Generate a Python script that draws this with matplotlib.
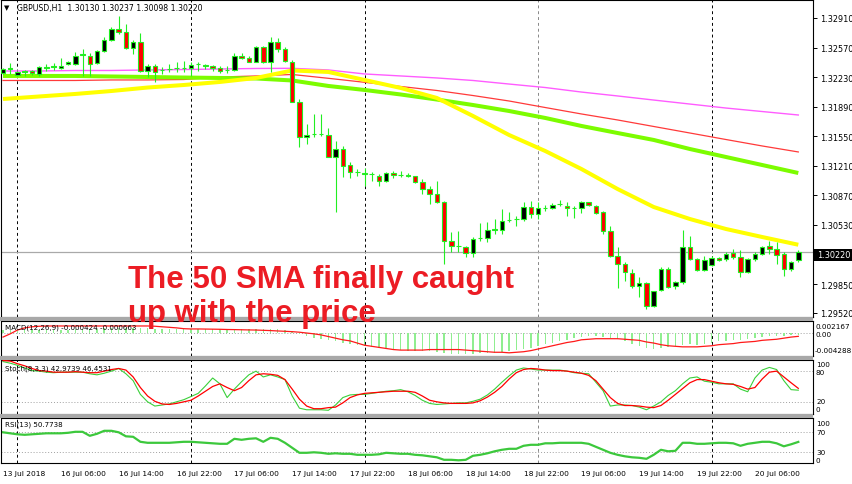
import matplotlib
matplotlib.use('Agg')
import matplotlib.pyplot as plt
from matplotlib.patches import Rectangle
import numpy as np

# ---------------- data ----------------
opens = [1.32277,1.32323,1.32257,1.32294,1.32300,1.32266,1.32340,1.32346,1.32338,1.32381,
         1.32381,1.32484,1.32476,1.32389,1.32533,1.32660,1.32783,1.32745,1.32561,1.32637,
         1.32303,1.32354,1.32312,1.32320,1.32329,1.32331,1.32335,1.32377,1.32372,1.32354,
         1.32335,1.32308,1.32315,1.32476,1.32453,1.32407,1.32573,1.32400,1.32630,1.32553,
         1.32409,1.31947,1.31538,1.31576,1.31581,1.31564,1.31308,1.31403,1.31219,1.31135,
         1.31130,1.31116,1.31096,1.31038,1.31127,1.31104,1.31100,1.31089,1.31020,1.30943,
         1.30886,1.30797,1.30348,1.30284,1.30273,1.30207,1.30374,1.30380,1.30475,1.30472,
         1.30587,1.30595,1.30598,1.30739,1.30656,1.30725,1.30728,1.30767,1.30751,1.30728,
         1.30721,1.30790,1.30751,1.30675,1.30463,1.30176,1.30081,1.29977,1.29831,1.29859,
         1.29601,1.29782,1.30023,1.29824,1.29870,1.30273,1.30138,1.30015,1.30069,1.30150,
         1.30138,1.30204,1.30164,1.29985,1.30138,1.30196,1.30284,1.30253,1.30196,1.30023,
         1.30130]
highs = [1.32335,1.32392,1.32297,1.32312,1.32308,1.32354,1.32381,1.32389,1.32446,1.32412,
         1.32515,1.32553,1.32507,1.32545,1.32688,1.32803,1.32929,1.32841,1.32660,1.32737,
         1.32381,1.32381,1.32343,1.32381,1.32400,1.32418,1.32400,1.32400,1.32381,1.32372,
         1.32361,1.32354,1.32507,1.32507,1.32476,1.32591,1.32591,1.32688,1.32680,1.32573,
         1.32427,1.31978,1.31691,1.31806,1.31806,1.31641,1.31498,1.31441,1.31250,1.31173,
         1.31181,1.31135,1.31116,1.31142,1.31153,1.31153,1.31124,1.31096,1.31058,1.30981,
         1.31038,1.30808,1.30452,1.30457,1.30291,1.30388,1.30552,1.30560,1.30598,1.30713,
         1.30682,1.30636,1.30797,1.30808,1.30790,1.30759,1.30782,1.30820,1.30790,1.30751,
         1.30808,1.30797,1.30762,1.30687,1.30521,1.30273,1.30100,1.30023,1.29928,1.29870,
         1.29773,1.30043,1.30043,1.29888,1.30472,1.30399,1.30146,1.30169,1.30169,1.30158,
         1.30215,1.30253,1.30242,1.30146,1.30215,1.30291,1.30348,1.30330,1.30215,1.30118,
         1.30237]
lows = [1.32260,1.32266,1.32246,1.32246,1.32257,1.32246,1.32303,1.32312,1.32323,1.32369,
        1.32369,1.32246,1.32246,1.32381,1.32515,1.32648,1.32726,1.32553,1.32496,1.32285,
        1.32228,1.32170,1.32266,1.32285,1.32285,1.32292,1.32246,1.32297,1.32323,1.32303,
        1.32277,1.32277,1.32303,1.32438,1.32400,1.32400,1.32389,1.32285,1.32515,1.32400,
        1.31938,1.31423,1.31460,1.31538,1.31556,1.31308,1.30675,1.31078,1.31070,1.31089,
        1.30981,1.31038,1.30974,1.31027,1.31066,1.31078,1.31078,1.31009,1.30886,1.30771,
        1.30782,1.30081,1.30215,1.30222,1.30158,1.30158,1.30348,1.30337,1.30426,1.30426,
        1.30560,1.30514,1.30578,1.30606,1.30598,1.30693,1.30713,1.30744,1.30629,1.30606,
        1.30667,1.30751,1.30656,1.30426,1.30158,1.29801,1.29888,1.29801,1.29698,1.29563,
        1.29583,1.29773,1.29805,1.29793,1.29851,1.30127,1.30003,1.30003,1.30054,1.30118,
        1.30118,1.30138,1.29928,1.29974,1.30118,1.30184,1.30196,1.30081,1.29946,1.30003,
        1.30098]
closes = [1.32323,1.32335,1.32285,1.32300,1.32274,1.32343,1.32346,1.32352,1.32358,1.32400,
          1.32476,1.32490,1.32381,1.32533,1.32660,1.32783,1.32745,1.32561,1.32630,1.32303,
          1.32354,1.32292,1.32317,1.32325,1.32335,1.32337,1.32372,1.32381,1.32354,1.32331,
          1.32297,1.32314,1.32476,1.32446,1.32407,1.32573,1.32400,1.32637,1.32553,1.32412,
          1.31947,1.31544,1.31567,1.31581,1.31576,1.31314,1.31403,1.31211,1.31135,1.31139,
          1.31116,1.31110,1.31038,1.31127,1.31104,1.31100,1.31098,1.31020,1.30943,1.30886,
          1.30797,1.30348,1.30291,1.30288,1.30207,1.30368,1.30380,1.30472,1.30480,1.30578,
          1.30592,1.30598,1.30739,1.30656,1.30721,1.30730,1.30759,1.30771,1.30728,1.30725,
          1.30790,1.30759,1.30667,1.30463,1.30176,1.30081,1.29985,1.29824,1.29859,1.29601,
          1.29767,1.30023,1.29819,1.29870,1.30273,1.30138,1.30015,1.30127,1.30146,1.30127,
          1.30196,1.30164,1.29985,1.30138,1.30196,1.30280,1.30253,1.30184,1.30023,1.30107,
          1.30220]

# moving averages, read every 5 bars
ma_idx = list(range(0, 111, 5))
sma_yellow = [1.31978,1.32007,1.32036,1.32070,1.32110,1.32139,1.32174,1.32220,1.32306,1.32289,
              1.32197,1.32105,1.31990,1.31783,1.31564,1.31380,1.31173,1.30943,1.30736,1.30598,
              1.30483,1.30391,1.30302]
sma_green = [1.32243,1.32243,1.32243,1.32237,1.32231,1.32225,1.32220,1.32214,1.32191,1.32128,
             1.32082,1.32030,1.31972,1.31909,1.31840,1.31760,1.31668,1.31587,1.31507,1.31403,
             1.31311,1.31219,1.31127]
sma_red = [1.32191,1.32191,1.32191,1.32197,1.32197,1.32202,1.32231,1.32243,1.32260,1.32216,
           1.32170,1.32122,1.32076,1.32018,1.31955,1.31880,1.31806,1.31737,1.31662,1.31587,
           1.31512,1.31438,1.31369]
sma_magenta = [1.32300,1.32300,1.32306,1.32306,1.32312,1.32317,1.32323,1.32329,1.32331,1.32312,
               1.32266,1.32243,1.32220,1.32191,1.32150,1.32110,1.32058,1.32013,1.31966,1.31920,
               1.31874,1.31834,1.31794]

macd_hist = ([0.0005]*10 + [0.0006]*4 + [0.0008]*7 + [0.0006]*18 +
             [0.0005,0.0003,-0.0002,-0.0006,-0.0009,-0.0011,-0.0013,-0.0015,-0.0018,-0.0020,
              -0.0023,-0.0025,-0.0027,-0.0029,-0.0030,-0.0031,-0.0032,-0.0033,-0.0034,
              -0.00334,-0.00343,-0.00355,-0.00373,-0.00386,-0.00386,-0.00398,-0.00386,-0.00373,
              -0.00373,-0.00367,-0.00355,-0.00343,-0.00324,-0.00306,-0.00275,-0.00250,-0.00214,
              -0.00189,-0.00152,-0.00128,-0.00097,-0.00078,-0.00060,-0.00060,-0.00078,-0.00091,
              -0.00109,-0.00152,-0.00201,-0.00250,-0.00275,-0.00294,-0.00275,-0.00263,-0.00250,
              -0.00232,-0.00214,-0.00232,-0.00214,-0.00189,-0.00158,-0.00152,-0.00140,-0.00128,
              -0.00109,-0.00091,-0.00078,-0.00066,-0.00066,-0.00054,-0.00042,-0.000424])
macd_signal = ([-0.0008,-0.0002,0.0005,0.0009,0.0011,0.0012] + [0.00125]*15 +
               [0.0012,0.0011,0.0010,0.0009,0.00075,0.0007,0.0007,0.00068,0.00066,0.00064,
                0.0006,0.00058,0.00055,0.00052,0.0005,0.00045,0.0004,0.00033,0.00027,0.0002,
                0.0001,-0.00005,-0.0002,-0.0004,-0.0007,-0.0010,-0.0013,-0.0015,-0.0019,-0.0023,
                -0.0025,-0.0027,-0.0029,-0.0031,-0.0032,-0.0032,-0.0032,-0.0032,
                -0.0031,-0.0031,-0.0031,-0.0031,-0.0031,-0.0032,-0.0033,-0.0034,-0.0035,-0.0036,
                -0.0036,-0.0037,-0.0036,-0.0035,-0.0033,-0.0030,-0.0027,-0.0024,-0.0021,-0.0018,
                -0.0016,-0.0013,-0.0012,-0.0011,-0.0011,-0.0011,-0.0011,-0.0012,-0.0013,-0.0014,
                -0.0017,-0.0019,-0.0022,-0.0024,-0.0025,-0.0026,-0.0026,-0.0026,-0.0025,-0.0024,
                -0.0022,-0.0021,-0.0020,-0.0018,-0.0017,-0.0016,-0.0014,-0.0013,-0.0012,-0.0010,
                -0.0008,-0.000663])

stoch_k = [97,94,90,85,80,79,77,76,77,77, 77,77,74,72,75,79,84,74,61,35,
           21,13,15,17,21,25,31,37,51,66, 55,29,45,59,72,79,68,72,68,63,
           32,9,6,6,6,5,15,29,34,35, 35,37,39,41,42,44,40,33,24,18,
           16,17,18,19,19,22,26,34,45,58, 70,81,85,83,81,81,81,81,79,76,
           75,74,58,42,13,15,15,14,11,6, 13,21,33,42,55,66,68,60,58,55,
           55,55,45,40,66,81,86,82,61,44, 42.97]
stoch_d = [99,98,93,89,84,80,79,77,77,77, 78,77,76,76,79,82,84,81,68,48,
           32,22,17,16,18,21,24,32,41,50, 55,48,42,48,61,72,74,73,71,63,
           45,26,13,8,8,10,11,19,29,34, 37,38,39,40,41,41,41,39,32,24,
           21,19,18,18,18,19,23,30,39,50, 64,76,82,84,83,81,80,80,79,77,
           75,71,61,45,29,18,14,14,13,11, 10,14,24,35,46,57,63,63,60,57,
           55,54,50,45,48,64,77,79,68,57, 46.45]
rsi = [70,68,66,65,66,67,68,68,68,69, 71,71,63,67,73,73,70,62,61,51,
       49,49,49,49,50,51,51,50,49,48, 47,47,57,55,57,58,51,59,57,49,
       39,29,29,30,29,27,28,27,27,25, 25,25,26,29,28,27,27,25,24,22,
       20,15,15,14,15,23,25,28,32,35, 37,37,43,45,45,48,48,49,49,49,
       49,47,41,35,29,25,22,20,19,17, 25,35,32,33,49,49,47,47,48,49,
       49,48,43,47,49,51,51,48,42,46, 50.77]

price_ticks = [1.32910,1.32570,1.32230,1.31890,1.31550,1.31210,1.30870,1.30530,1.29850,1.29520]
last_price = 1.30220
time_idx = [0,8,16,24,32,40,48,56,64,72,80,88,96,104]
time_labels = ["13 Jul 2018","16 Jul 06:00","16 Jul 14:00","16 Jul 22:00","17 Jul 06:00",
               "17 Jul 14:00","17 Jul 22:00","18 Jul 06:00","18 Jul 14:00","18 Jul 22:00",
               "19 Jul 06:00","19 Jul 14:00","19 Jul 22:00","20 Jul 06:00"]
day_idx = [2, 26, 50, 74, 98]

# ---------------- figure ----------------
W, H = 852, 485
fig = plt.figure(figsize=(W/100, H/100), dpi=100)
fig.patch.set_facecolor('white')

def rect(x0, y0, x1, y1):
    return [x0/W, 1 - y1/H, (x1-x0)/W, (y1-y0)/H]

def T(x, y, s, **kw):
    kw.setdefault('fontsize', 5.9)
    kw.setdefault('family', 'DejaVu Sans')
    kw.setdefault('va', 'center')
    kw.setdefault('ha', 'left')
    return fig.text(x/W, 1 - y/H, s, **kw)

PX0, PX1 = 1, 813
ax = fig.add_axes(rect(PX0, 1, PX1, 318))
axm = fig.add_axes(rect(PX0, 322, PX1, 357))
axs = fig.add_axes(rect(PX0, 361, PX1, 415))
axr = fig.add_axes(rect(PX0, 419, PX1, 464))

# gray separators
for (y0, y1) in [(318, 322), (357, 361), (415, 419)]:
    fig.patches.append(Rectangle((0, 1 - y1/H), PX1/W, (y1-y0)/H, transform=fig.transFigure,
                                 facecolor='#a8a8a8', edgecolor='none', zorder=0))

xl = ((PX0 - 3)/7.23, (PX1 - 3)/7.23)
n = len(opens)
idx = np.arange(n)
for a in (ax, axm, axs, axr):
    a.set_xlim(*xl)
    a.set_xticks([])
    a.set_facecolor('white')
    for sp in a.spines.values():
        sp.set_color('black'); sp.set_linewidth(0.8)
    for d in day_idx:
        a.axvline(d, color='#888888' if d == 74 else 'black', lw=0.7,
                  ls=(0, (3, 3)), zorder=1)

# ---- main price panel ----
ax.set_ylim(1.33128 - 0.000115*318, 1.33128 - 0.000115*1)
ax.axhline(last_price, color='#a9a9a9', lw=0.9, zorder=1.5)
ax.plot(ma_idx, sma_magenta, color='#ff5cff', lw=1.0, zorder=2)
ax.plot(ma_idx, sma_red, color='#ff3a3a', lw=0.9, zorder=2)
ax.plot(ma_idx, sma_green, color='#7cfc00', lw=2.9, zorder=2.2, solid_capstyle='butt')
ax.plot(ma_idx, sma_yellow, color='#ffff00', lw=2.9, zorder=2.3, solid_capstyle='butt')

wick_c = '#22ee22'
bw = 0.62
for i in range(n):
    o, h, l, c = opens[i], highs[i], lows[i], closes[i]
    ax.plot([i, i], [l, h], color=wick_c, lw=0.8, zorder=3, solid_capstyle='butt')
    fc = 'black' if c >= o else '#ff0000'
    ax.add_patch(Rectangle((i - bw/2, min(o, c)), bw, abs(c - o), facecolor=fc,
                           edgecolor=wick_c, lw=0.8, zorder=4))

ax.yaxis.tick_right()
ax.set_yticks(price_ticks)
ax.set_yticklabels([f"{v:.5f}" for v in price_ticks], fontsize=5.9, family='DejaVu Sans')
ax.tick_params(axis='y', length=3, width=0.7, pad=2, colors='black')

# current price box
fig.patches.append(Rectangle((814/W, 1 - 262/H), 38/W, 12/H, transform=fig.transFigure,
                             facecolor='black', edgecolor='none', zorder=5))
T(817, 256, f"{last_price:.5f}", color='white', zorder=6)

# header
T(4, 8, "\u25BC", fontsize=5)
T(17, 8, "GBPUSD,H1  1.30130 1.30237 1.30098 1.30220", fontsize=5.6)

SL = 5.2  # sub-panel scale label size
# ---- MACD ----
axm.set_ylim(-0.004288, 0.002167)
axm.axhline(0, color='#a0a0a0', lw=0.7, ls=(0, (1, 2)), zorder=1)
axm.bar(idx, macd_hist, width=0.2, color='#90ee90', zorder=2)
axm.plot(idx, macd_signal, color='#ff1a1a', lw=0.9, zorder=3)
axm.set_yticks([])
T(5, 328, "MACD(12,26,9) -0.000424 -0.000663", fontsize=5.1)
T(816, 327, "0.002167", fontsize=SL)
T(816, 335, "0.00", fontsize=SL)
T(815, 351, "-0.004288", fontsize=SL)

# ---- Stochastic ----
axs.set_ylim(-2, 100)
for lv in (80, 20):
    axs.axhline(lv, color='#a0a0a0', lw=0.7, ls=(0, (1, 2)), zorder=1)
axs.plot(idx, stoch_k, color='#3ad03a', lw=0.8, zorder=2)
axs.plot(idx, stoch_d, color='#ff0000', lw=0.9, zorder=3)
axs.set_yticks([])
T(5, 369, "Stoch(8,3,3) 42.9739 46.4531", fontsize=5.1)
T(816, 365, "100", fontsize=SL); T(816, 373, "80", fontsize=SL)
T(816, 402, "20", fontsize=SL); T(816, 410, "0", fontsize=SL)

# ---- RSI ----
axr.set_ylim(8.6, 98.6)
for lv in (70, 30):
    axr.axhline(lv, color='#a0a0a0', lw=0.7, ls=(0, (1, 2)), zorder=1)
axr.plot(idx, rsi, color='#3cc83c', lw=1.6, zorder=2)
axr.set_yticks([])
T(5, 425, "RSI(13) 50.7738", fontsize=5.1)
T(816, 424, "100", fontsize=SL); T(816, 433, "70", fontsize=SL)
T(816, 453, "30", fontsize=SL); T(816, 461, "0", fontsize=SL)

# ---- time axis ----
for i, lab in zip(time_idx, time_labels):
    T(3 + 7.23*i, 474, lab, fontsize=5.4)

# ---- annotation ----
red = '#ec1c24'
T(128, 288, "The 50 SMA finally caught", fontsize=22.5, family='Liberation Sans',
  weight='bold', color=red, va='baseline', zorder=10)
T(128, 322, "up with the price", fontsize=22.5, family='Liberation Sans',
  weight='bold', color=red, va='baseline', zorder=10)

fig.savefig('out.png', dpi=100)
